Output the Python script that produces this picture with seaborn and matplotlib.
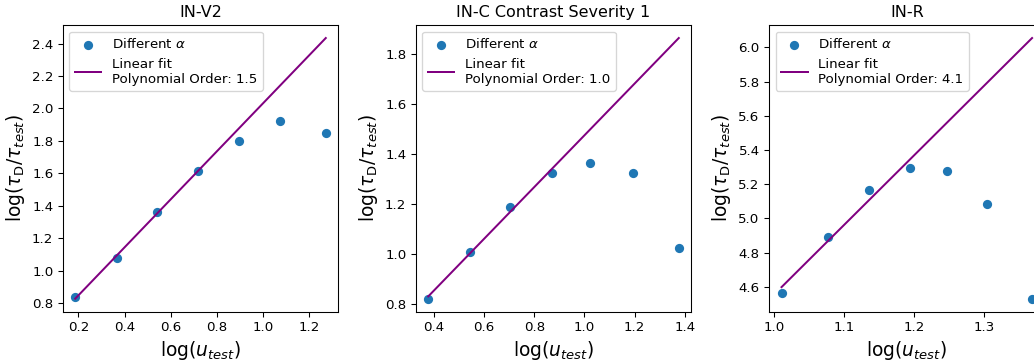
import numpy as np
import matplotlib
matplotlib.use("Agg")
import matplotlib.pyplot as plt
import seaborn as sns

# log(u_test) and log(tau_D / tau_test) for each alpha, per dataset
titles = ["IN-V2", "IN-C Contrast Severity 1", "IN-R"]

x_v2 = [0.186, 0.368, 0.541, 0.718, 0.894, 1.072, 1.272]
y_v2 = [0.837, 1.081, 1.360, 1.616, 1.797, 1.920, 1.846]

x_c = [0.377, 0.544, 0.704, 0.870, 1.024, 1.192, 1.376]
y_c = [0.821, 1.006, 1.190, 1.326, 1.363, 1.323, 1.024]

x_r = [1.011, 1.077, 1.136, 1.194, 1.248, 1.304, 1.369]
y_r = [4.565, 4.889, 5.168, 5.293, 5.277, 5.082, 4.531]

# number of leading points used for the linear fit
n_fit = 4

DPI = 96
W, H = 1034, 361
fig = plt.figure(figsize=(W / DPI, H / DPI), dpi=DPI)

# axes boxes in pixels: left, top, width, height
boxes = [(62.7, 25.0), (415.7, 25.0), (769.0, 25.0)]
ax_w, ax_h = 275.6, 286.7

datasets = [(x_v2, y_v2), (x_c, y_c), (x_r, y_r)]

for (left, top), title, (xs, ys) in zip(boxes, titles, datasets):
    ax = fig.add_axes([left / W, (H - top - ax_h) / H, ax_w / W, ax_h / H])
    xs = np.asarray(xs)
    ys = np.asarray(ys)
    slope, intercept = np.polyfit(xs[:n_fit], ys[:n_fit], 1)
    x_line = np.array([xs.min(), xs.max()])
    y_line = slope * x_line + intercept

    sns.scatterplot(x=xs, y=ys, ax=ax, color="#1f77b4", s=48, linewidth=0,
                    label=r"Different $\alpha$", zorder=2)
    sns.lineplot(x=x_line, y=y_line, ax=ax, color="purple", linewidth=1.5,
                 label=f"Linear fit\nPolynomial Order: {slope:.1f}", zorder=3)

    ax.set_title(title, fontsize=12)
    ax.set_xlabel(r"$\log(u_{test})$", fontsize=14)
    ax.set_ylabel(r"$\log(\tau_{\mathrm{D}}/\tau_{test})$", fontsize=14)
    ax.tick_params(labelsize=10)
    ax.legend(loc="upper left", fontsize=10)

fig.savefig("out.png", dpi=DPI)
